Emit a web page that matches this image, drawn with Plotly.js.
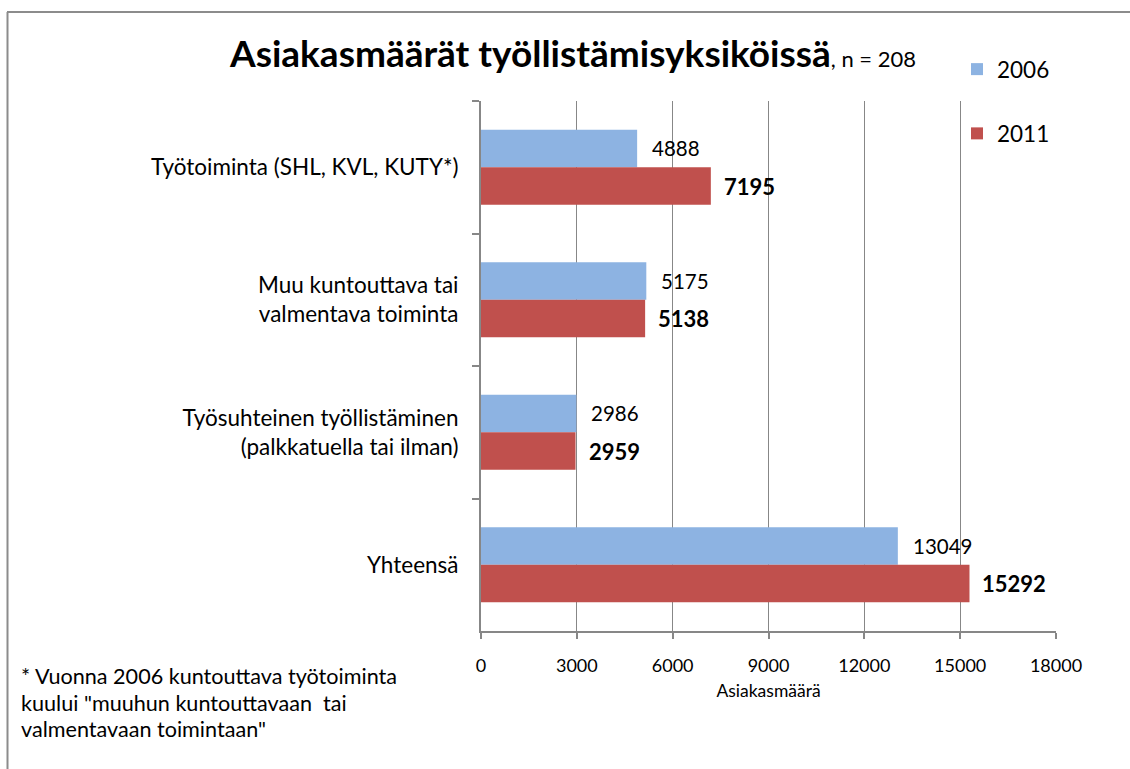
<!DOCTYPE html>
<html>
<head>
<meta charset="utf-8">
<script src="https://cdn.plot.ly/plotly-3.0.1.min.js"></script>
<style>html,body{margin:0;padding:0;background:#fff;}#chart{width:1130px;height:769px;}</style>
</head>
<body>
<div id="chart"></div>
<script>
const categories = [
  "Työtoiminta (SHL, KVL, KUTY*)",
  "Muu kuntouttava tai<br>valmentava toiminta",
  "Työsuhteinen työllistäminen<br>(palkkatuella tai ilman)",
  "Yhteensä"
];
const values2006 = [4888, 5175, 2986, 13049];
const values2011 = [7195, 5138, 2959, 15292];
const seriesNames = ["2006", "2011"];
const xTicks = [0, 3000, 6000, 9000, 12000, 15000, 18000];
const footnoteLines = [
  '* Vuonna 2006 kuntouttava työtoiminta',
  'kuului "muuhun kuntouttavaan  tai',
  'valmentavaan toimintaan"'
];

const FONT = "Lato, 'Open Sans', sans-serif";
const blue = "#8DB3E2";
const red = "#C0504D";
const grid = "#878787";

const traces = [
  {type: "bar", orientation: "h", name: seriesNames[0], legendgroup: "a",
   x: values2006, y: categories, marker: {color: blue}, hoverinfo: "x"},
  {type: "bar", orientation: "h", name: seriesNames[1], legendgroup: "b",
   x: values2011, y: categories, marker: {color: red}, hoverinfo: "x"}
];

const annotations = [];
categories.forEach((c, i) => {
  annotations.push({x: values2006[i], y: c, xref: "x", yref: "y", text: String(values2006[i]),
    showarrow: false, xanchor: "left", yanchor: "middle", xshift: 13, yshift: 19,
    font: {family: FONT, size: 20.5, color: "#000"}});
  annotations.push({x: values2011[i], y: c, xref: "x", yref: "y", text: "<b>" + values2011[i] + "</b>",
    showarrow: false, xanchor: "left", yanchor: "middle", xshift: 11, yshift: -19,
    font: {family: FONT, size: 22, color: "#000"}});
});
const footY = [676, 703, 729];
footnoteLines.forEach((t, i) => {
  annotations.push({x: (19 - 481) / 575, y: (631 - footY[i]) / 530, xref: "paper", yref: "paper",
    text: t, showarrow: false, xanchor: "left", yanchor: "middle",
    font: {family: FONT, size: 21.6, color: "#000"}});
});

const layout = {
  width: 1130, height: 769,
  margin: {l: 481, r: 74, t: 101, b: 138, pad: 0},
  paper_bgcolor: "#fff", plot_bgcolor: "#fff",
  font: {family: FONT, color: "#000"},
  title: {
    text: "<b>Asiakasmäärät työllistämisyksiköissä</b><span style='font-size:22px'>, n = 208</span>",
    font: {family: FONT, size: 37, color: "#000"},
    x: 573 / 1130, xref: "container", xanchor: "center",
    y: 1 - 54 / 769, yref: "container", yanchor: "middle"
  },
  barmode: "group",
  bargap: 0.434,
  bargroupgap: 0,
  xaxis: {
    range: [0, 18000], tickvals: xTicks, ticktext: xTicks.map(String),
    showgrid: true, gridcolor: grid, gridwidth: 1,
    showline: true, linecolor: grid, linewidth: 2,
    ticks: "outside", ticklen: 6, tickcolor: grid, tickwidth: 2,
    tickfont: {family: FONT, size: 18, color: "#000"},
    ticklabelstandoff: 11,
    zeroline: false, fixedrange: true,
    title: {text: "Asiakasmäärä", font: {family: FONT, size: 17.5, color: "#000"}, standoff: 10}
  },
  yaxis: {
    type: "category", autorange: "reversed",
    tickson: "boundaries",
    showgrid: false, showline: true, linecolor: grid, linewidth: 2,
    ticks: "outside", ticklen: 7, tickcolor: grid, tickwidth: 2,
    tickfont: {family: FONT, size: 22.5, color: "#000"},
    ticklabelstandoff: 16,
    zeroline: false, fixedrange: true
  },
  legend: {
    x: (957 - 481) / 575, xanchor: "left", xref: "paper",
    y: 1 + (101 - 48) / 530, yanchor: "top", yref: "paper",
    traceorder: "grouped", tracegroupgap: 32,
    bgcolor: "rgba(0,0,0,0)",
    font: {family: FONT, size: 22.5, color: "#000"}
  },
  showlegend: true,
  annotations: annotations,
  shapes: [
    {type: "line", xref: "paper", yref: "paper",
     x0: (7 - 481) / 575, x1: (1130 - 481) / 575, y0: 1 + (101 - 12) / 530, y1: 1 + (101 - 12) / 530,
     line: {color: "#8c8c8c", width: 2}},
    {type: "line", xref: "paper", yref: "paper",
     x0: (7.5 - 481) / 575, x1: (7.5 - 481) / 575, y0: 1 + (101 - 12) / 530, y1: (631 - 769) / 530,
     line: {color: "#8c8c8c", width: 2}}
  ]
};

Plotly.newPlot("chart", traces, layout, {displayModeBar: false, staticPlot: true});
</script>
</body>
</html>
